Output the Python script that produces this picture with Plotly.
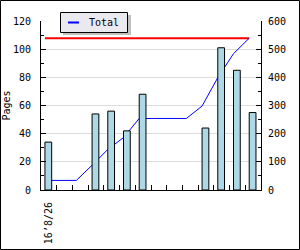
import plotly.graph_objects as go

categories = list(range(14))
first_label = "16\u20198/26"
pages = [34, 0, 0, 54, 56, 42, 68, 0, 0, 0, 44, 101, 85, 55]
total = [34, 34, 34, 88, 144, 186, 254, 254, 254, 254, 298, 399, 484, 539]
target = 539
legend_name = "Total"

FONT = dict(family="DejaVu Sans Mono", size=10, color="black")

line_x = [c - 0.25 for c in categories]
bar_y = [v if v else None for v in pages]

fig = go.Figure()
fig.add_trace(go.Scatter(x=line_x, y=[target] * len(categories), mode="lines",
                         line=dict(color="#ff0000", width=2), showlegend=False,
                         xaxis="x", yaxis="y"))
fig.add_trace(go.Scatter(x=line_x, y=total, mode="lines", name=legend_name,
                         line=dict(color="#0000ff", width=1), showlegend=False,
                         xaxis="x", yaxis="y"))
fig.add_trace(go.Bar(x=categories, y=bar_y, width=0.43, offset=-0.25,
                     marker=dict(color="#add8e6", line=dict(color="black", width=1)),
                     showlegend=False, xaxis="x", yaxis="y2"))

L, R, T, B = 41, 39, 21, 60
W, H = 300, 250
pw, ph = W - L - R, H - T - B

def px(x):
    return (x - L) / pw

def py(y):
    return (H - B - y) / ph

fig.update_layout(
    width=W, height=H,
    margin=dict(l=L, r=R, t=T, b=B, autoexpand=False),
    paper_bgcolor="white", plot_bgcolor="white",
    font=FONT,
    showlegend=False,
    xaxis=dict(range=[-0.5, 13.5], tickmode="array", tickvals=[0],
               ticktext=[first_label], tickangle=-90, ticks="",
               ticklabelstandoff=7, automargin=False,
               showline=True, linecolor="black", linewidth=1,
               showgrid=False, zeroline=False,
               minor=dict(tickmode="array", tickvals=[c + 0.5 for c in categories[:-1]],
                          ticks="inside", ticklen=5, tickcolor="black", showgrid=False)),
    yaxis=dict(side="right", range=[0, 600], tickmode="linear", tick0=0, dtick=100,
               ticks="inside", ticklen=5, tickcolor="black", ticklabelstandoff=4,
               automargin=False,
               showline=True, linecolor="black", linewidth=1,
               showgrid=True, gridcolor="#dcdcdc", zeroline=False,
               minor=dict(dtick=50, ticks="inside", ticklen=3, tickcolor="black", showgrid=False)),
    yaxis2=dict(side="left", overlaying="y", range=[0, 120], tickmode="linear", tick0=0, dtick=20,
                ticks="inside", ticklen=5, tickcolor="black", ticklabelstandoff=7,
                automargin=False,
                showline=True, linecolor="black", linewidth=1,
                showgrid=False, zeroline=False,
                title=dict(text="Pages", font=FONT, standoff=0),
                minor=dict(dtick=10, ticks="inside", ticklen=3, tickcolor="black", showgrid=False)),
    shapes=[
        # legend shadow
        dict(type="rect", xref="paper", yref="paper",
             x0=px(63), x1=px(131), y0=py(35), y1=py(15),
             fillcolor="#c0c0c0", line=dict(width=0)),
        # legend box
        dict(type="rect", xref="paper", yref="paper",
             x0=px(60.5), x1=px(127.5), y0=py(32.5), y1=py(12.5),
             fillcolor="#ebe9f0", line=dict(color="black", width=1)),
        # legend sample
        dict(type="line", xref="paper", yref="paper",
             x0=px(68), x1=px(79), y0=py(22.5), y1=py(22.5),
             line=dict(color="#0000ff", width=2)),
        # outer frame
        dict(type="rect", xref="paper", yref="paper",
             x0=px(0.5), x1=px(299.5), y0=py(249.5), y1=py(0.5),
             line=dict(color="black", width=1), fillcolor="rgba(0,0,0,0)"),
    ],
    annotations=[
        dict(text=legend_name, xref="paper", yref="paper", x=px(86.5), y=py(22.5),
             xanchor="left", yanchor="middle", showarrow=False, font=FONT),
    ],
)

fig.write_html("out.html")
